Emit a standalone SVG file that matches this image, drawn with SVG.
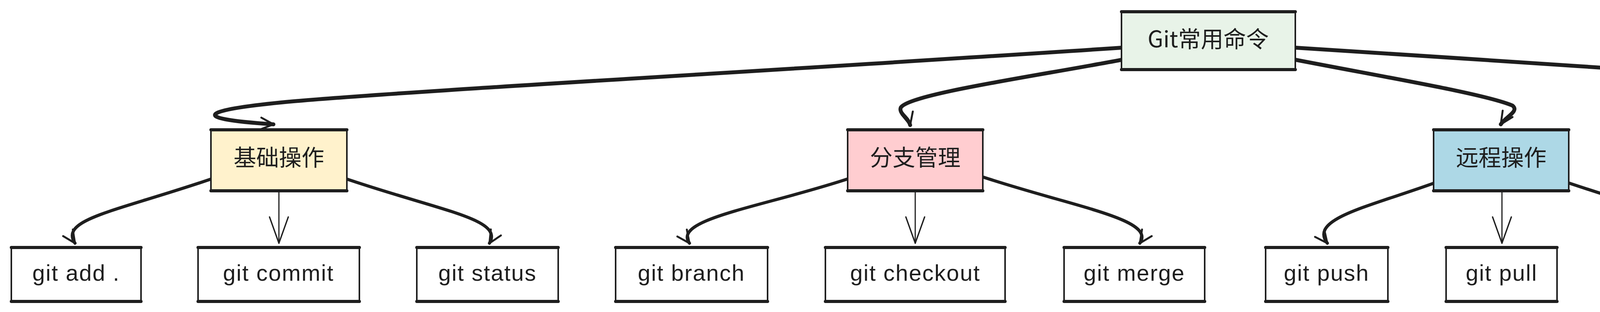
<svg xmlns="http://www.w3.org/2000/svg" width="5802" height="798" viewBox="0 0 5802 798">
<style>
.bx{stroke:#1e1e1e;stroke-width:4;stroke-linejoin:round}
.ed{stroke:#1e1e1e;stroke-width:8;stroke-linecap:round;fill:none}
.lt{font-family:"Liberation Sans","Noto Sans CJK SC",sans-serif;font-size:58px;fill:#1e1e1e;text-anchor:middle;letter-spacing:2px}
.ct{font-family:"Noto Sans CJK SC","Liberation Sans",sans-serif;font-size:58px;fill:#1e1e1e;text-anchor:middle}
.c1{fill:none;stroke:#1e1e1e;stroke-width:8;stroke-linecap:round;stroke-linejoin:round;marker-end:url(#ah)}
.c0{fill:none;stroke:#1e1e1e;stroke-width:10;stroke-linecap:round;stroke-linejoin:round;marker-end:url(#ah)}
.c2{fill:none;stroke:#1e1e1e;stroke-width:3;stroke-linecap:round;marker-end:url(#vh)}
.wm{font-family:"Noto Sans CJK SC","Liberation Sans",sans-serif;font-size:25px;fill:#ffffff;stroke:#555;stroke-width:1.3;paint-order:stroke}
</style>
<defs>
<marker id="ah" markerUnits="userSpaceOnUse" viewBox="-40 -20 44 40" refX="0" refY="0" markerWidth="44" markerHeight="40" orient="auto" overflow="visible">
<path d="M-32,-15 L0,0 L-32,15" fill="none" stroke="#1e1e1e" stroke-width="5" stroke-linecap="round" stroke-linejoin="round"/>
</marker>
<marker id="vh" markerUnits="userSpaceOnUse" viewBox="-70 -26 74 52" refX="0" refY="0" markerWidth="74" markerHeight="52" orient="auto" overflow="visible">
<path d="M-67,-24 L0,0 L-67,24" fill="none" stroke="#1e1e1e" stroke-width="3.5" stroke-linecap="round" stroke-linejoin="round"/>
</marker>
</defs>
<rect width="5802" height="798" fill="#ffffff"/>

<g id="connectors">
<path class="c0" d="M2871,122 C2000,180 1000,235 720,262 C540,280 460,302 700,318"/>
<path class="c0" d="M2871,153 C2650,195 2330,240 2306,275 C2300,290 2325,300 2330,320"/>
<path class="c0" d="M3317,153 C3560,200 3800,240 3872,270 C3890,285 3855,298 3842,318"/>
<path class="c0" d="M3317,122 C4300,185 5000,232 5240,262 C5330,278 5320,305 5168,323"/>

<path class="c1" d="M543,457 C300,540 150,560 192,622"/>
<path class="c2" d="M714,490 L714,622"/>
<path class="c1" d="M885,457 C1130,540 1290,560 1253,622"/>

<path class="c1" d="M2172,457 C1950,530 1720,560 1765,622"/>
<path class="c2" d="M2343,490 L2343,622"/>
<path class="c1" d="M2514,452 C2750,530 2960,560 2918,622"/>

<path class="c1" d="M3672,468 C3500,530 3350,560 3398,622"/>
<path class="c2" d="M3845,490 L3845,622"/>
<path class="c1" d="M4016,468 C4200,530 4340,560 4304,622"/>

<path class="c1" d="M4990,472 C4800,540 4700,570 4746,622"/>
<path class="c2" d="M5161,490 L5161,622"/>
<path class="c1" d="M5336,470 C5520,540 5650,570 5610,622"/>
</g>

<g id="root">
<rect class="bx" x="2871" y="30" width="445" height="148" fill="#e8f3e8" stroke-width="5"/>
<path class="ed" d="M2871,30 L3316,30 M2871,178 L3316,178"/>
<text class="ct" x="3093" y="121">Git常用命令</text>
</g>

<g id="basic">
<rect class="bx" x="540" y="332" width="348" height="156" fill="#fff2cc"/>
<path class="ed" d="M540,332 L888,332 M540,488 L888,488"/>
<text class="ct" x="714" y="424">基础操作</text>
</g>
<g id="branch">
<rect class="bx" x="2170" y="332" width="346" height="156" fill="#ffcdd0"/>
<path class="ed" d="M2170,332 L2516,332 M2170,488 L2516,488"/>
<text class="ct" x="2343" y="424">分支管理</text>
</g>
<g id="remote">
<rect class="bx" x="3670" y="332" width="346" height="156" fill="#add8e6"/>
<path class="ed" d="M3670,332 L4016,332 M3670,488 L4016,488"/>
<text class="ct" x="3843" y="424">远程操作</text>
</g>
<g id="history">
<rect class="bx" x="4988" y="332" width="346" height="156" fill="#f0e68c"/>
<path class="ed" d="M4988,332 L5334,332 M4988,488 L5334,488"/>
<text class="ct" x="5161" y="424">历史查看</text>
</g>

<g id="add">
<rect class="bx" x="29" y="633" width="332" height="138" fill="#ffffff"/>
<path class="ed" d="M29,633 L361,633 M29,771 L361,771"/>
<text class="lt" x="195" y="718">git add .</text>
</g>
<g id="commit">
<rect class="bx" x="507" y="633" width="413" height="138" fill="#ffffff"/>
<path class="ed" d="M507,633 L920,633 M507,771 L920,771"/>
<text class="lt" x="713" y="718">git commit</text>
</g>
<g id="status">
<rect class="bx" x="1067" y="633" width="362" height="138" fill="#ffffff"/>
<path class="ed" d="M1067,633 L1429,633 M1067,771 L1429,771"/>
<text class="lt" x="1248" y="718">git status</text>
</g>
<g id="gbranch">
<rect class="bx" x="1576" y="633" width="389" height="138" fill="#ffffff"/>
<path class="ed" d="M1576,633 L1965,633 M1576,771 L1965,771"/>
<text class="lt" x="1770" y="718">git branch</text>
</g>
<g id="checkout">
<rect class="bx" x="2113" y="633" width="460" height="138" fill="#ffffff"/>
<path class="ed" d="M2113,633 L2573,633 M2113,771 L2573,771"/>
<text class="lt" x="2343" y="718">git checkout</text>
</g>
<g id="merge">
<rect class="bx" x="2724" y="633" width="360" height="138" fill="#ffffff"/>
<path class="ed" d="M2724,633 L3084,633 M2724,771 L3084,771"/>
<text class="lt" x="2904" y="718">git merge</text>
</g>
<g id="push">
<rect class="bx" x="3240" y="633" width="313" height="138" fill="#ffffff"/>
<path class="ed" d="M3240,633 L3553,633 M3240,771 L3553,771"/>
<text class="lt" x="3396" y="718">git push</text>
</g>
<g id="pull">
<rect class="bx" x="3702" y="633" width="284" height="138" fill="#ffffff"/>
<path class="ed" d="M3702,633 L3986,633 M3702,771 L3986,771"/>
<text class="lt" x="3844" y="718">git pull</text>
</g>
<g id="fetch">
<rect class="bx" x="4136" y="633" width="334" height="138" fill="#ffffff"/>
<path class="ed" d="M4136,633 L4470,633 M4136,771 L4470,771"/>
<text class="lt" x="4303" y="718">git fetch</text>
</g>
<g id="log">
<rect class="bx" x="4618" y="633" width="255" height="138" fill="#ffffff"/>
<path class="ed" d="M4618,633 L4873,633 M4618,771 L4873,771"/>
<text class="lt" x="4745" y="718">git log</text>
</g>
<g id="diff">
<rect class="bx" x="5024" y="633" width="277" height="138" fill="#ffffff"/>
<path class="ed" d="M5024,633 L5301,633 M5024,771 L5301,771"/>
<text class="lt" x="5162" y="718">git diff</text>
</g>
<g id="show">
<rect class="bx" x="5448" y="633" width="328" height="138" fill="#ffffff"/>
<path class="ed" d="M5448,633 L5776,633 M5448,771 L5776,771"/>
<text class="lt" x="5612" y="718">git show</text>
</g>

<text class="wm" x="5470" y="769">掘金技术社区 @ 卷积殉铁子</text>
</svg>
